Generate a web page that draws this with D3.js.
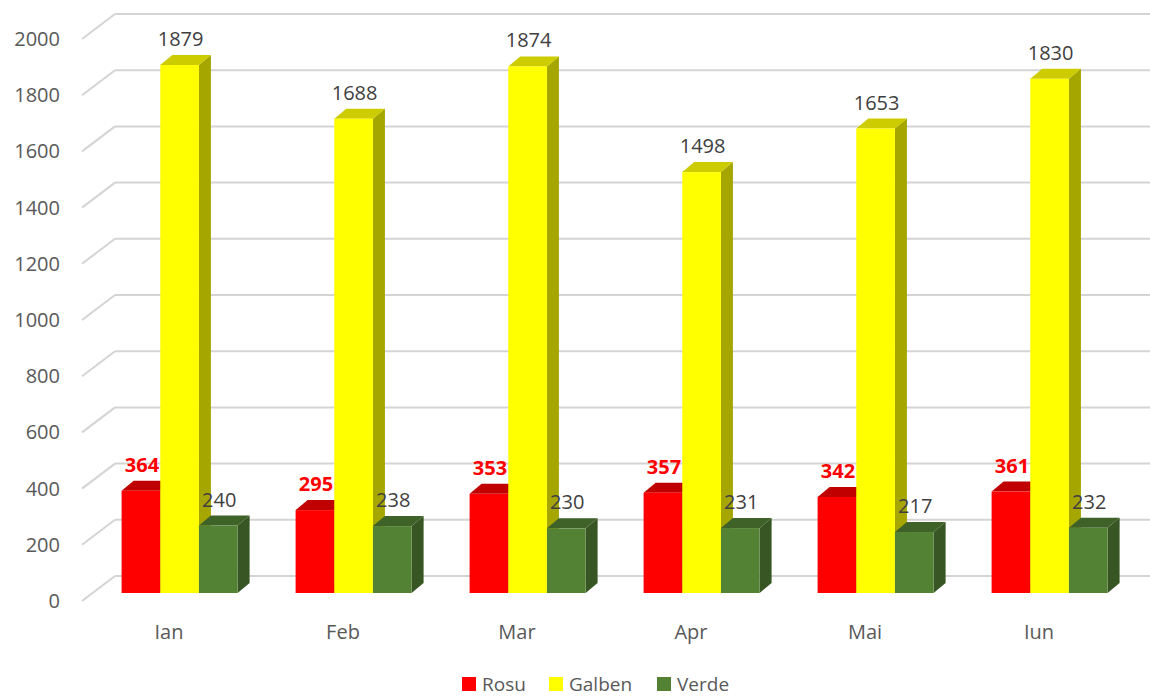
<!DOCTYPE html>
<html><head><meta charset="utf-8">
<script src="https://cdn.jsdelivr.net/npm/d3@7"></script>
<style>body{margin:0;background:#fff}svg{display:block}</style>
</head><body>
<svg id="c" width="1150" height="697"></svg>
<script>
const categories = ["Ian","Feb","Mar","Apr","Mai","Iun"];
const seriesNames = ["Rosu","Galben","Verde"];
const rosu   = [364,295,353,357,342,361];
const galben = [1879,1688,1874,1498,1653,1830];
const verde  = [240,238,230,231,217,232];
const yTicks = [0,200,400,600,800,1000,1200,1400,1600,1800,2000];

const seriesValues = [rosu, galben, verde];
const colors = [
  {front:"#ff0000", top:"#c00000", side:"#a00000", label:"#ff0000", bold:true},
  {front:"#ffff00", top:"#cccc00", side:"#a6a600", label:"#404040", bold:false},
  {front:"#548235", top:"#3f6228", side:"#375623", label:"#404040", bold:false}
];

const svg = d3.select("#c");
const font = "'Open Sans', 'Liberation Sans', sans-serif";

const frontBase = 601, backBase = 576, barBase = 593;
const gdx = 33, gdy = -25;     // grid depth
const bdx = 12, bdy = -10;     // bar depth
const floorLeft = 82;

const y = d3.scaleLinear().domain([0,2000]).range([0,562]);
const x0 = d3.scaleBand().domain(categories).range([92.6, 92.6+1044]).paddingInner(1/3).paddingOuter(1/6);
const x1 = d3.scaleBand().domain(seriesNames).range([0, x0.bandwidth()]);
const xLab = d3.scaleBand().domain(categories).range([floorLeft, floorLeft+1044]);

// gridlines
const grid = svg.append("g");
yTicks.forEach(t => {
  const yf = frontBase - y(t), yb = backBase - y(t);
  grid.append("line").attr("x1", floorLeft).attr("y1", yf).attr("x2", floorLeft+gdx).attr("y2", yb)
    .attr("stroke","#d4d4d4").attr("stroke-width",2);
  grid.append("line").attr("x1", floorLeft+gdx).attr("y1", yb).attr("x2", 1150).attr("y2", yb)
    .attr("stroke","#d4d4d4").attr("stroke-width",2);
  grid.append("text").attr("x", 60).attr("y", yf).attr("dy","0.35em")
    .attr("text-anchor","end").attr("font-family",font).attr("font-size",20)
    .attr("fill","#595959").text(t);
});

// bars
const bars = svg.append("g");
const labels = svg.append("g");
categories.forEach((c, i) => {
  seriesNames.forEach((s, j) => {
    const v = seriesValues[j][i];
    const xl = x0(c) + x1(s), w = x1.bandwidth();
    const xr = xl + w;
    const yt = barBase - y(v);
    const col = colors[j];
    bars.append("path").attr("d", `M${xr},${yt}L${xr+bdx},${yt+bdy}L${xr+bdx},${barBase+bdy}L${xr},${barBase}Z`)
      .attr("fill", col.side);
    bars.append("path").attr("d", `M${xl},${yt}L${xl+bdx},${yt+bdy}L${xr+bdx},${yt+bdy}L${xr},${yt}Z`)
      .attr("fill", col.top);
    bars.append("rect").attr("x", xl).attr("y", yt).attr("width", w).attr("height", y(v))
      .attr("fill", col.front);
    labels.append("text").attr("x", xl + w/2 + 1).attr("y", yt + bdy - 16).attr("dy","0.35em")
      .attr("text-anchor","middle").attr("font-family",font).attr("font-size",20)
      .attr("font-weight", col.bold ? "bold" : "normal")
      .attr("fill", col.label).text(v);
  });
  svg.append("text").attr("x", xLab(c) + xLab.bandwidth()/2).attr("y", 632).attr("dy","0.35em")
    .attr("text-anchor","middle").attr("font-family",font).attr("font-size",20)
    .attr("fill","#595959").text(c);
});

// legend
const legX = [462, 549, 657];
seriesNames.forEach((s, j) => {
  svg.append("rect").attr("x", legX[j]).attr("y", 677).attr("width", 14).attr("height", 14)
    .attr("fill", colors[j].front);
  svg.append("text").attr("x", legX[j] + 20).attr("y", 684).attr("dy","0.35em")
    .attr("font-family",font).attr("font-size",19).attr("fill","#595959").text(s);
});
</script>
</body></html>
